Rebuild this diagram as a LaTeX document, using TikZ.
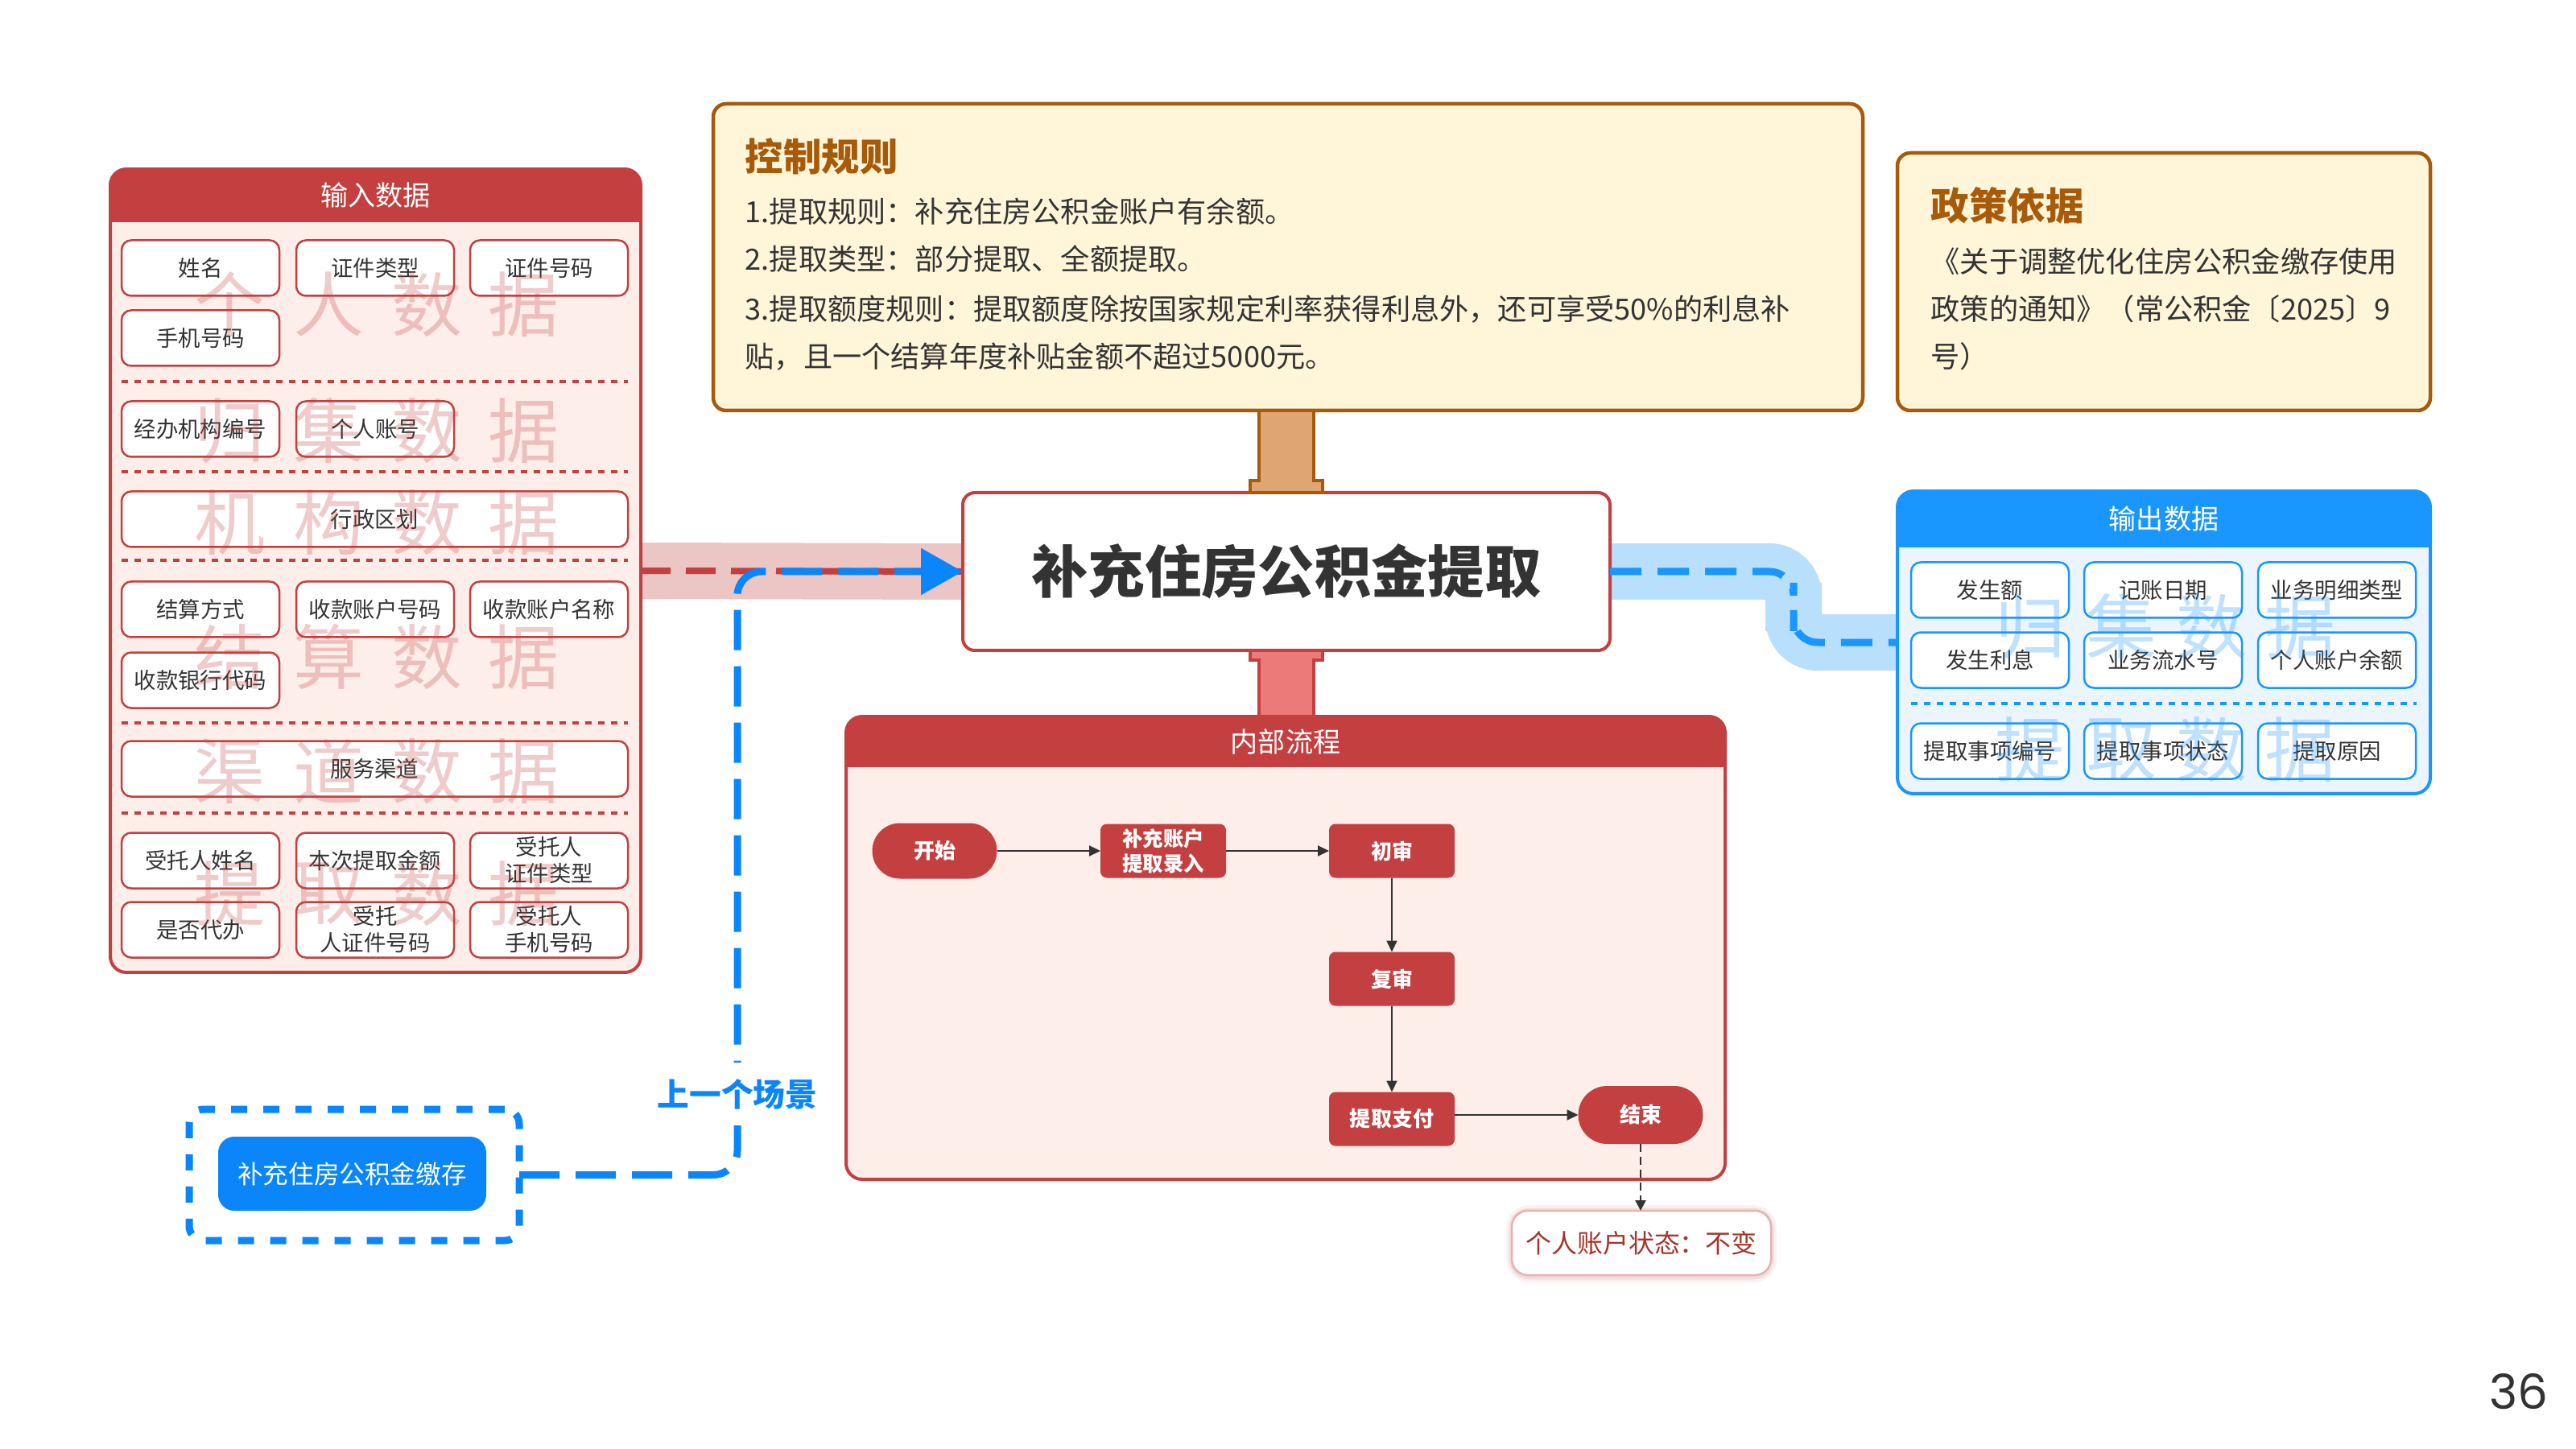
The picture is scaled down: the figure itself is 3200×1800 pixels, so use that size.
\documentclass[tikz,border=0pt]{standalone}
\usepackage{fontspec}
\setmainfont{Noto Sans CJK SC}
\newfontfamily\numfont{Poppins}
\usetikzlibrary{arrows.meta,calc}
\pgfdeclarelayer{bgw}
\pgfdeclarelayer{bands}
\pgfsetlayers{bgw,bands,main}
\definecolor{cred}{HTML}{C44040}
\definecolor{cpink}{HTML}{FDEEE9}
\definecolor{cband}{HTML}{ECC5C5}
\definecolor{cblue}{HTML}{1A96FF}
\definecolor{cblueb}{HTML}{0A86FA}
\definecolor{cbluebg}{HTML}{EBF5FF}
\definecolor{cbandb}{HTML}{B8DFFC}
\definecolor{ccream}{HTML}{FFF6D9}
\definecolor{cbrown}{HTML}{A65A0A}
\definecolor{ctan}{HTML}{DFA673}
\definecolor{csalmon}{HTML}{EC7A78}
\definecolor{ctext}{HTML}{333333}
\definecolor{cstat}{HTML}{A3352A}
\definecolor{cstatb}{HTML}{E6B3B3}
\newcommand{\mkpanel}[9]{%
  \node[outer sep=0pt, inner sep=0pt, minimum width=#3, minimum height=#4, fill=#5, rounded corners=2mm] (#1) at #2 {};
  \begin{scope}
    \clip[rounded corners=2mm] (#1.north west) rectangle (#1.south east);
    \fill[#6] (#1.north west) rectangle ($(#1.north east)+(0,#7)$);
  \end{scope}
  \draw[#6, line width=0.4mm, rounded corners=2mm] (#1.north west) rectangle (#1.south east);
  \node[text=white, font=\fontsize{9.7}{11.6}\selectfont, inner sep=0pt] (#1-title) at ($(#1.north)+(0,#8)$) {#9};
}
\tikzset{
  field/.style={draw=cred, line width=0.25mm, fill=white, rounded corners=1.2mm, minimum width=19.6mm, minimum height=6.9mm, inner sep=0pt, outer sep=0pt, font=\fontsize{7.8}{9.4}\selectfont, text=ctext, align=center},
  ofield/.style={field, draw=cblue},
  widefield/.style={field, minimum width=62.9mm},
  sepline/.style={line width=0.4mm, dash pattern=on 0.8mm off 0.8mm},
  wm/.style={font=\fontsize{25}{25}\selectfont, inner sep=0pt, opacity=0.27, text=cred},
  owm/.style={wm, text=cblue, opacity=0.28},
  flowbox/.style={fill=cred, rounded corners=0.8mm, minimum width=15.6mm, minimum height=6.7mm, inner sep=0pt, outer sep=0pt, text=white, font=\bfseries\fontsize{7.4}{8.8}\selectfont, align=center},
  term/.style={flowbox, rounded corners=3.45mm, minimum width=15.5mm, minimum height=6.9mm},
  flowarrow/.style={draw=ctext, line width=0.2mm, -{Triangle[length=1.4mm,width=1.3mm]}},
  bodytext/.style={anchor=west, inner sep=0pt, text=ctext, font=\fontsize{10.3}{12}\selectfont},
  boxtitle/.style={anchor=west, inner sep=0pt, text=cbrown, font=\bfseries\fontsize{13.5}{16}\selectfont},
}
\begin{document}
\begin{tikzpicture}[x=0.1mm, y=-0.1mm]
\begin{pgfonlayer}{bgw}
\fill[white] (0,0) rectangle (3200,1800);
\end{pgfonlayer}
\path[use as bounding box] (0,0) rectangle (3200,1800);

% ---------- coordinates for bends
\coordinate (rb) at (2228,754);
\coordinate (bend) at (916,1000);

% ---------- input panel
\mkpanel{in}{(466.5,709)}{65.9mm}{99.8mm}{cpink}{cred}{66}{33}{输入数据}
% ---------- output panel
\mkpanel{out}{(2688,798)}{66.2mm}{37.6mm}{cbluebg}{cblue}{70}{35}{输出数据}
% ---------- main node
\node[fill=white, draw=cred, line width=0.4mm, rounded corners=1.5mm, minimum width=80.4mm, minimum height=19.6mm, outer sep=0pt, inner sep=0pt, text=ctext, font=\bfseries\fontsize{20}{24}\selectfont] (main) at (1598,710) {补充住房公积金提取};

% ---------- bands (behind the boxes)
\begin{pgfonlayer}{bands}
\draw[cband, line width=7mm] (in.east) -- (main.west);
\draw[cbandb, line width=7mm, rounded corners=3mm] (main.east) -| (rb) |- (out.west);
\end{pgfonlayer}

% input fields
\node[field] (f1) at (249,333) {姓名};
\node[field] (f2) at (466,333) {证件类型};
\node[field] (f3) at (682,333) {证件号码};
\node[field] (f4) at (249,420) {手机号码};
\draw[cred, sepline] (151,474) -- (780,474);
\node[field] (f5) at (249,533) {经办机构编号};
\node[field] (f6) at (466,533) {个人账号};
\draw[cred, sepline] (151,586) -- (780,586);
\node[widefield] (f7) at (465.5,645) {行政区划};
\draw[cred, sepline] (151,696) -- (780,696);
\node[field] (f8) at (249,757) {结算方式};
\node[field] (f9) at (466,757) {收款账户号码};
\node[field] (f10) at (682,757) {收款账户名称};
\node[field] (f11) at (249,845) {收款银行代码};
\draw[cred, sepline] (151,898) -- (780,898);
\node[widefield] (f12) at (465.5,955) {服务渠道};
\draw[cred, sepline] (151,1010) -- (780,1010);
\node[field] (f13) at (249,1069) {受托人姓名};
\node[field] (f14) at (466,1069) {本次提取金额};
\node[field] (f15) at (682,1069) {受托人\\证件类型};
\node[field] (f16) at (249,1155) {是否代办};
\node[field] (f17) at (466,1155) {受托\\人证件号码};
\node[field] (f18) at (682,1155) {受托人\\手机号码};

% input watermarks
\foreach \c/\x [count=\i] in {个/285,人/408,数/530,据/650} \node[wm] (wa\i) at (\x,378) {\c};
\foreach \c/\x [count=\i] in {归/285,集/408,数/530,据/650} \node[wm] (wb\i) at (\x,535) {\c};
\foreach \c/\x [count=\i] in {机/285,构/408,数/530,据/650} \node[wm] (wc\i) at (\x,649) {\c};
\foreach \c/\x [count=\i] in {结/285,算/408,数/530,据/650} \node[wm] (wd\i) at (\x,816) {\c};
\foreach \c/\x [count=\i] in {渠/285,道/408,数/530,据/650} \node[wm] (we\i) at (\x,958) {\c};
\foreach \c/\x [count=\i] in {提/285,取/408,数/530,据/650} \node[wm] (wf\i) at (\x,1110) {\c};

% output fields
\node[ofield] (o1) at (2472,733) {发生额};
\node[ofield] (o2) at (2687,733) {记账日期};
\node[ofield] (o3) at (2903,733) {业务明细类型};
\node[ofield] (o4) at (2472,820) {发生利息};
\node[ofield] (o5) at (2687,820) {业务流水号};
\node[ofield] (o6) at (2903,820) {个人账户余额};
\draw[cblue, sepline] (2374,874) -- (3002,874);
\node[ofield] (o7) at (2472,933) {提取事项编号};
\node[ofield] (o8) at (2687,933) {提取事项状态};
\node[ofield] (o9) at (2903,933) {提取原因};
\foreach \c/\x [count=\i] in {归/2522,集/2635,数/2747,据/2857} \node[owm] (wg\i) at (\x,778) {\c};
\foreach \c/\x [count=\i] in {提/2522,取/2635,数/2747,据/2857} \node[owm] (wh\i) at (\x,931) {\c};

% ---------- control rules
\node[fill=ccream, draw=cbrown, line width=0.45mm, rounded corners=1.6mm, minimum width=142.8mm, minimum height=38.1mm, outer sep=0pt] (ctrl) at (1600,319.5) {};
\node[boxtitle] (ctitle) at (925,194) {控制规则};
\node[bodytext] (cl1) at (925,263) {1.提取规则：补充住房公积金账户有余额。};
\node[bodytext] (cl2) at (925,322) {2.提取类型：部分提取、全额提取。};
\node[bodytext] (cl3) at (925,384) {3.提取额度规则：提取额度除按国家规定利率获得利息外，还可享受50\%的利息补};
\node[bodytext] (cl4) at (925,443) {贴，且一个结算年度补贴金额不超过5000元。};

% ---------- policy
\node[fill=ccream, draw=cbrown, line width=0.45mm, rounded corners=1.6mm, minimum width=66.2mm, minimum height=32mm, outer sep=0pt] (policy) at (2688,350) {};
\node[boxtitle] (ptitle) at (2398,255) {政策依据};
\node[bodytext] (pl1) at (2398,325) {《关于调整优化住房公积金缴存使用};
\node[bodytext] (pl2) at (2398,384) {政策的通知》（常公积金〔2025〕9};
\node[bodytext] (pl3) at (2398,443) {号）};

% ---------- top tab (control -> main)
\filldraw[fill=ctan, draw=cbrown, line width=0.4mm]
  ($(main.north)+(-34,-102)$) -- ($(main.north)+(34,-102)$) -- ($(main.north)+(34,-15)$) -- ($(main.north)+(45,-15)$)
  -- ($(main.north)+(45,0)$) -- ($(main.north)+(-45,0)$) -- ($(main.north)+(-45,-15)$) -- ($(main.north)+(-34,-15)$) -- cycle;

% ---------- flow panel
\mkpanel{flow}{(1597,1177.5)}{109.2mm}{57.5mm}{cpink}{cred}{63}{32}{内部流程}
\filldraw[fill=csalmon, draw=cred, line width=0.4mm]
  ($(main.south)+(-45,0)$) -- ($(main.south)+(45,0)$) -- ($(main.south)+(45,12)$) -- ($(main.south)+(34,12)$)
  -- ($(main.south)+(34,82)$) -- ($(main.south)+(-34,82)$) -- ($(main.south)+(-34,12)$) -- ($(main.south)+(-45,12)$) -- cycle;

\node[term] (start) at (1161,1057) {开始};
\node[flowbox, font=\bfseries\fontsize{7.2}{8.8}\selectfont] (entry) at (1445,1057) {补充账户\\提取录入};
\node[flowbox] (c1) at (1729,1057) {初审};
\node[flowbox] (c2) at (1729,1216) {复审};
\node[flowbox] (pay) at (1729,1390) {提取支付};
\node[term, minimum height=7.2mm, rounded corners=3.6mm] (end) at (2038,1385) {结束};
\draw[flowarrow] (start) -- (entry);
\draw[flowarrow] (entry) -- (c1);
\draw[flowarrow] (c1) -- (c2);
\draw[flowarrow] (c2) -- (pay);
\draw[flowarrow] (pay.east |- end.west) -- (end.west);

% ---------- status
\coordinate (stc) at (2039,1544);
\draw[cred, opacity=0.07, line width=1.4mm, rounded corners=2.2mm] ($(stc)+(-161,-40)$) rectangle ($(stc)+(161,42)$);
\draw[cred, opacity=0.12, line width=0.7mm, rounded corners=2.2mm] ($(stc)+(-161,-40)$) rectangle ($(stc)+(161,42)$);
\node[fill=white, draw=cstatb, line width=0.25mm, rounded corners=2mm, minimum width=32.2mm, minimum height=8mm, inner sep=0pt, outer sep=0pt, text=cstat, font=\fontsize{9.1}{11}\selectfont] (status) at (stc) {个人账户状态：不变};
\draw[draw=ctext, line width=0.25mm, dash pattern=on 1mm off 0.6mm, -{Triangle[length=1.3mm,width=1.3mm]}] (end.south) -- (end.south |- status.north);

% ---------- dashed connectors
\draw[cred, line width=0.8mm, dash pattern=on 3.7mm off 1.9mm] (in.east) -- (main.west);
\draw[cblue, line width=0.9mm, dash pattern=on 3.9mm off 2mm, rounded corners=3mm] (main.east) -| (rb) |- (out.west);

% ---------- previous scene
\node[draw=cblueb, line width=0.9mm, dash pattern=on 2mm off 2mm, rounded corners=1.8mm, minimum width=41mm, minimum height=16.3mm, outer sep=0pt] (prevbox) at (440,1459.5) {};
\node[fill=cblueb, rounded corners=2mm, minimum width=33.3mm, minimum height=9.2mm, inner sep=0pt, text=white, font=\fontsize{9}{11}\selectfont] (prev) at (437.5,1458) {补充住房公积金缴存};
\draw[cblueb, line width=0.9mm, dash pattern=on 5mm off 2mm, rounded corners=3mm, -{Triangle[length=5.2mm,width=5.6mm]}] (prevbox.east) -| (bend) |- (main.west);
\node[fill=white, text=cblueb, font=\bfseries\fontsize{11.3}{13}\selectfont, inner xsep=0.5mm, inner ysep=2mm] (lbl) at (916,1359) {上一个场景};

% ---------- page number
\node[text=ctext, font=\numfont\fontsize{17}{20}\selectfont, inner sep=0pt] (pg) at (3129,1729) {36};
\end{tikzpicture}
\end{document}
